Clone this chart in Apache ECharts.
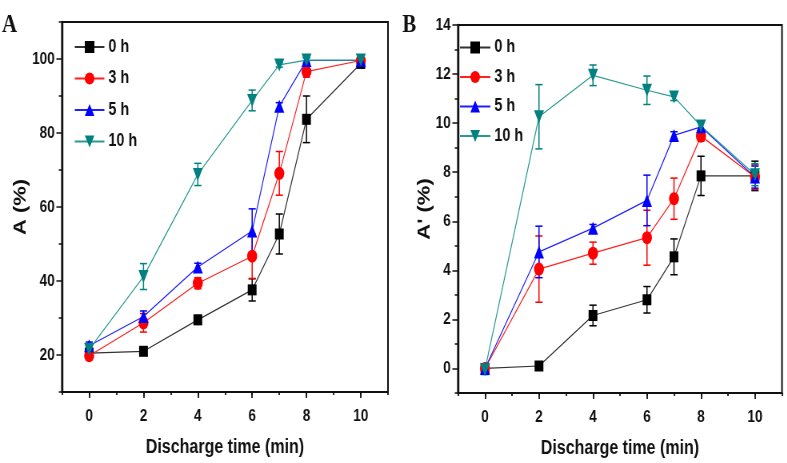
<!DOCTYPE html>
<html><head><meta charset="utf-8">
<script src="https://cdn.jsdelivr.net/npm/echarts@6/dist/echarts.min.js"></script>
<style>
html,body{margin:0;padding:0;background:#fff;overflow:hidden;width:787px;height:463px}
#c{width:984px;height:463px;transform:scaleX(0.8);transform-origin:0 0}
</style>
</head><body><div id="c"></div>
<script>
// ---- data ----
const xs = [0, 2, 4, 6, 7, 8, 10];
const seriesNames = ['0 h', '3 h', '5 h', '10 h'];
// Panel A: A (%)
const A0 = [20.5, 21, 29.5, 37.6, 52.7, 83.7, 98.8];
const A0err = [0.5, 0.8, 1.2, 3, 5.4, 6.3, 0.8];
const A3 = [19.8, 28.7, 39.4, 46.7, 69.1, 96.6, 99.6];
const A3err = [1, 2.5, 1.5, 6, 5.9, 1.5, 0.8];
const A5 = [22.5, 30.4, 43.8, 53.5, 87.2, 99.6, 99.6];
const A5err = [1, 1.5, 1, 6, 1, 0.8, 0.8];
const A10 = [21.5, 41.2, 68.8, 88.8, 98.4, 99.7, 99.7];
const A10err = [1.5, 3.5, 3, 2.8, 0.6, 0.6, 0.8];
// Panel B: A' (%)
const B0 = [0, 0.1, 2.16, 2.8, 4.55, 7.85, 7.85];
const B0err = [0.1, 0.15, 0.42, 0.54, 0.73, 0.8, 0.6];
const B3 = [0, 4.05, 4.7, 5.33, 6.92, 9.47, 7.8];
const B3err = [0.1, 1.35, 0.45, 1.12, 0.84, 0.2, 0.5];
const B5 = [0, 4.75, 5.72, 6.85, 9.5, 9.85, 7.8];
const B5err = [0.1, 1.05, 0.15, 1.03, 0.15, 0.2, 0.45];
const B10 = [-0.05, 10.26, 11.95, 11.34, 11.07, 9.88, 7.9];
const B10err = [0.2, 1.31, 0.42, 0.58, 0.15, 0.15, 0.45];
// tick labels
const xTickLabels = [0, 2, 4, 6, 8, 10];
const yTickLabelsA = [20, 40, 60, 80, 100];
const yTickLabelsB = [0, 2, 4, 6, 8, 10, 12, 14];

// ---- styling (the page is drawn 1.25x wide and squeezed to 0.8 horizontally, like the source figure) ----
const FONT = "'Liberation Sans',Arial,sans-serif";
const INK = '#111';
const colors = ['#000000', '#ff0000', '#0000ff', '#008080'];
const lineColors = ['#333333', '#ff2020', '#2020ff', '#2a9a94'];
const symbols = ['rect', 'circle', 'triangle', 'path://M0,0L10,0L5,10Z'];
const symSizes = [[11, 11], [12.5, 13], [12.5, 13], [12.5, 13]];
const labelStyle = {fontFamily: FONT, fontWeight: 'bold', fontSize: 17, color: INK};

function xAxes(gridIndex) {
  return [
    {type: 'value', gridIndex, min: -1, max: 11, interval: 1, position: 'bottom',
      axisLine: {show: true, onZero: false, lineStyle: {color: INK, width: 2}},
      axisTick: {show: true, length: 3, lineStyle: {color: INK, width: 1.8}},
      axisLabel: {show: false}, splitLine: {show: false},
      name: 'Discharge time (min)', nameLocation: 'middle', nameGap: 45,
      nameTextStyle: {fontFamily: FONT, fontWeight: 'bold', fontSize: 20, color: INK}},
    {type: 'value', gridIndex, min: -1, max: 11, position: 'bottom',
      axisLine: {show: false, onZero: false},
      axisTick: {show: true, length: 6, customValues: xTickLabels, lineStyle: {color: INK, width: 1.8}},
      axisLabel: Object.assign({show: true, customValues: xTickLabels, margin: 16}, labelStyle),
      splitLine: {show: false}}
  ];
}
function yAxes(gridIndex, min, max, step, majors, name, nameGap) {
  return [
    {type: 'value', gridIndex, min, max, interval: step, position: 'left',
      axisLine: {show: true, onZero: false, lineStyle: {color: INK, width: 2.4}},
      axisTick: {show: true, length: 4, lineStyle: {color: INK, width: 1.5}},
      axisLabel: {show: false}, splitLine: {show: false},
      name, nameLocation: 'middle', nameGap,
      nameTextStyle: {fontFamily: FONT, fontWeight: 'bold', fontSize: 22, color: INK}},
    {type: 'value', gridIndex, min, max, position: 'left',
      axisLine: {show: false, onZero: false},
      axisTick: {show: true, length: 7, customValues: majors, lineStyle: {color: INK, width: 1.5}},
      axisLabel: Object.assign({show: true, customValues: majors, margin: 9}, labelStyle),
      splitLine: {show: false}}
  ];
}

function errSeries(name, vals, errs, color, xi, yi) {
  return {
    type: 'custom', name: name + ' err', xAxisIndex: xi, yAxisIndex: yi, z: 2, silent: true, clip: false,
    data: xs.map((x, i) => [x, vals[i] - errs[i], vals[i] + errs[i]]),
    encode: {x: 0, y: [1, 2]},
    renderItem(params, api) {
      const lo = api.coord([api.value(0), api.value(1)]);
      const hi = api.coord([api.value(0), api.value(2)]);
      const w = 4.5;
      const st = {stroke: color, lineWidth: 1.5};
      return {type: 'group', children: [
        {type: 'line', shape: {x1: lo[0], y1: lo[1], x2: hi[0], y2: hi[1]}, style: st},
        {type: 'line', shape: {x1: lo[0] - w, y1: lo[1], x2: lo[0] + w, y2: lo[1]}, style: st},
        {type: 'line', shape: {x1: hi[0] - w, y1: hi[1], x2: hi[0] + w, y2: hi[1]}, style: st}
      ]};
    }
  };
}
function lineSeries(k, vals, xi, yi) {
  return {
    type: 'line', name: seriesNames[k], xAxisIndex: xi, yAxisIndex: yi, z: 3,
    data: xs.map((x, i) => [x, vals[i]]),
    symbol: symbols[k], symbolSize: symSizes[k],
    itemStyle: {color: colors[k]}, lineStyle: {color: lineColors[k], width: 1.2},
    clip: false
  };
}

const valsA = [A0, A3, A5, A10], errsA = [A0err, A3err, A5err, A10err];
const valsB = [B0, B3, B5, B10], errsB = [B0err, B3err, B5err, B10err];
const series = [];
for (let k = 0; k < 4; k++) {
  series.push(errSeries(seriesNames[k], valsA[k], errsA[k], colors[k], 0, 0));
  series.push(errSeries(seriesNames[k] + 'B', valsB[k], errsB[k], colors[k], 2, 2));
}
for (let k = 0; k < 4; k++) {
  series.push(lineSeries(k, valsA[k], 0, 0));
  series.push(lineSeries(k, valsB[k], 2, 2));
}

const legendBase = {orient: 'vertical', itemHeight: 15, selectedMode: false,
  data: seriesNames, padding: 0,
  textStyle: {fontFamily: FONT, fontWeight: 'bold', fontSize: 18, color: INK}};

const serif = "'Liberation Serif','Times New Roman',serif";
const option = {
  animation: false,
  backgroundColor: '#fff',
  title: [
    {text: 'A', left: 2.5, top: 12, padding: 0, textStyle: {fontFamily: serif, fontWeight: 'bold', fontSize: 26, color: INK}},
    {text: 'B', left: 503, top: 12, padding: 0, textStyle: {fontFamily: serif, fontWeight: 'bold', fontSize: 26, color: INK}}
  ],
  legend: [
    Object.assign({left: 92.5, top: 38, itemWidth: 37, itemGap: 13.5}, legendBase),
    Object.assign({left: 574, top: 38.5, itemWidth: 38, itemGap: 11.5}, legendBase)
  ],
  grid: [
    {left: 77.5, top: 22, width: 407.5, height: 370, show: true, borderColor: INK, borderWidth: 2, backgroundColor: 'transparent'},
    {left: 572.5, top: 25, width: 405, height: 368, show: true, borderColor: INK, borderWidth: 2, backgroundColor: 'transparent'}
  ],
  xAxis: [].concat(xAxes(0), xAxes(1)),
  yAxis: [].concat(
    yAxes(0, 10, 110, 10, yTickLabelsA, 'A (%)', 41),
    yAxes(1, -1, 14, 1, yTickLabelsB, "A' (%)", 31)
  ),
  series
};
const chart = echarts.init(document.getElementById('c'), null, {renderer: 'canvas'});
chart.setOption(option);
</script>
</body></html>
